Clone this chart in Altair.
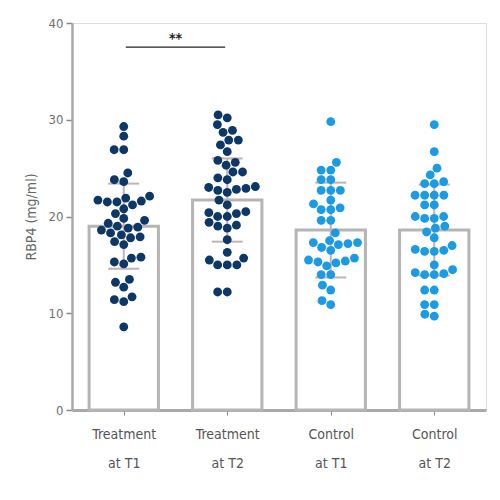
import math
import altair as alt
import pandas as pd

# ---------------- data ----------------
line1 = ["Treatment", "Treatment", "Control", "Control"]
line2 = ["at T1", "at T2", "at T1", "at T2"]
arms = ["Treatment", "Treatment", "Control", "Control"]
means = [19.0, 21.7, 18.6, 18.6]
sds = [4.4, 4.3, 4.9, 4.7]

treat_t1 = [29.3, 28.3, 26.9, 26.9, 24.5, 23.6, 23.8, 21.9, 21.5, 21.6, 21.2, 21.7, 21.5,
            19.8, 20.3, 19.3, 19.0, 18.8, 18.6, 18.3, 18.9, 18.1, 17.8, 19.6, 17.4, 17.9,
            15.8, 15.3, 15.1, 15.7, 13.2, 13.5, 12.7, 11.4, 11.2, 11.7, 8.6, 20.8, 22.1, 17.1]
treat_t2 = [30.5, 29.5, 30.2, 28.9, 28.7, 27.9, 27.4, 27.9, 26.7, 25.8, 25.3, 25.6, 24.6,
            23.8, 24.6, 22.9, 22.7, 22.8, 23.0, 23.1, 21.7, 22.5, 20.4, 20.0, 20.3, 20.0,
            20.5, 19.0, 19.1, 18.8, 19.4, 17.6, 16.3, 15.5, 15.0, 15.0, 15.0, 15.7, 12.2,
            12.2, 21.2, 24.0]
ctrl_t1 = [29.8, 25.6, 24.8, 24.8, 23.8, 23.8, 22.7, 22.7, 22.7, 21.7, 20.9, 20.7, 20.7,
           19.6, 19.6, 17.3, 17.1, 17.3, 17.5, 17.2, 15.7, 15.3, 15.5, 15.4, 15.2, 14.9,
           14.0, 14.0, 12.4, 12.9, 10.9, 11.3, 16.5, 16.8, 18.3, 21.3]
ctrl_t2 = [29.5, 26.7, 25.0, 24.3, 23.4, 23.4, 22.2, 22.2, 22.2, 22.2, 21.2, 21.2, 20.0,
           19.8, 19.8, 20.0, 18.4, 17.0, 16.5, 16.4, 16.4, 16.6, 14.5, 14.1, 14.0, 14.0,
           14.2, 12.4, 12.4, 10.9, 10.9, 9.7, 9.9, 18.8, 19.0, 23.6, 17.8, 15.0]
series = [treat_t1, treat_t2, ctrl_t1, ctrl_t2]

sig_from, sig_to, sig_level, sig_text = 0.02, 0.98, 37.5, "**"

# ---------------- layout ----------------
W, H = 414, 387
Y_MAX = 40
PX_X = W / 4.0          # px per x unit
PX_Y = H / Y_MAX        # px per y unit
DOT = 9.6               # dot diameter in px


def beeswarm(values):
    """Greedy beeswarm: returns x offsets in px for each value."""
    order = sorted(range(len(values)), key=lambda i: values[i])
    placed = []
    offs = [0.0] * len(values)
    for i in order:
        y = values[i] * PX_Y
        cands = [0.0]
        for (px, py) in placed:
            dy = abs(py - y)
            if dy < DOT:
                dx = math.sqrt(DOT * DOT - dy * dy)
                cands += [px + dx, px - dx]
        cands.sort(key=lambda c: (abs(c), c))
        for c in cands:
            ok = all((c - px) ** 2 + (y - py) ** 2 >= DOT * DOT - 1e-6 for px, py in placed)
            if ok:
                offs[i] = c
                placed.append((c, y))
                break
    return offs


rows = []
for gi, vals in enumerate(series):
    offs = beeswarm(vals)
    for v, o in zip(vals, offs):
        rows.append({"x": gi + o / PX_X, "value": v, "arm": arms[gi]})
points = pd.DataFrame(rows)

half_bar = 0.335
half_cap = 0.15
bars = pd.DataFrame({
    "x1": [i - half_bar for i in range(4)],
    "x2": [i + half_bar for i in range(4)],
    "xc": list(range(4)),
    "c1": [i - half_cap for i in range(4)],
    "c2": [i + half_cap for i in range(4)],
    "zero": [0] * 4,
    "mean": means,
    "lo": [m - s for m, s in zip(means, sds)],
    "hi": [m + s for m, s in zip(means, sds)],
})

label_expr = "[" + ",".join(f"['{a}','{b}']" for a, b in zip(line1, line2)) + "][datum.value]"

FONT = "Liberation Sans Narrow, DejaVu Sans Condensed, Liberation Sans, sans-serif"
xscale = alt.Scale(domain=[-0.5, 3.5], nice=False, zero=False)
yscale = alt.Scale(domain=[0, Y_MAX], nice=False)

xaxis = alt.Axis(values=[0, 1, 2, 3], labelExpr=label_expr, title=None, grid=False,
                 domainColor="#a9a9a9", domainWidth=3, tickColor="#8a8a8a", tickSize=5,
                 tickWidth=1, labelFont=FONT, labelFontSize=14, labelLineHeight=29,
                 labelPadding=12, labelColor="#555555", labelBaseline="top")
yaxis = alt.Axis(values=[0, 10, 20, 30, 40], title="RBP4 (mg/ml)", grid=False,
                 domainColor="#a9a9a9", domainWidth=2.5, tickColor="#8a8a8a", tickSize=6,
                 tickWidth=1.5, labelFont=FONT, labelFontSize=13, labelPadding=3,
                 labelColor="#707070", titleFont=FONT, titleFontSize=14,
                 titleFontWeight="normal", titleColor="#666666", titlePadding=10)

bar_layer = alt.Chart(bars).mark_rect(fill="white", stroke="#b5b5b5", strokeWidth=3).encode(
    x=alt.X("x1:Q", scale=xscale, axis=xaxis),
    x2="x2:Q",
    y=alt.Y("zero:Q", scale=yscale, axis=yaxis),
    y2="mean:Q",
)

err_v = alt.Chart(bars).mark_rule(color="#c4b2b2", strokeWidth=2).encode(
    x="xc:Q", y="lo:Q", y2="hi:Q")
cap_lo = alt.Chart(bars).mark_rule(color="#c4b2b2", strokeWidth=2).encode(
    x="c1:Q", x2="c2:Q", y="lo:Q")
cap_hi = alt.Chart(bars).mark_rule(color="#c4b2b2", strokeWidth=2).encode(
    x="c1:Q", x2="c2:Q", y="hi:Q")

dots = alt.Chart(points).mark_circle(size=78, opacity=1).encode(
    x="x:Q",
    y="value:Q",
    color=alt.Color("arm:N", scale=alt.Scale(domain=["Treatment", "Control"],
                                             range=["#0c3767", "#1b9be3"]), legend=None),
)

sig_df = pd.DataFrame({"a": [sig_from], "b": [sig_to], "y": [sig_level],
                       "m": [(sig_from + sig_to) / 2], "t": [sig_text]})
sig_line = alt.Chart(sig_df).mark_rule(color="#222222", strokeWidth=1.3).encode(
    x="a:Q", x2="b:Q", y="y:Q")
sig_txt = alt.Chart(sig_df).mark_text(fontSize=14, fontWeight="bold", color="#222222",
                                      baseline="bottom", dy=-1, font=FONT).encode(
    x="m:Q", y="y:Q", text="t:N")

chart = alt.layer(bar_layer, err_v, cap_lo, cap_hi, dots, sig_line, sig_txt).properties(
    width=W, height=H,
    autosize=alt.AutoSizeParams(type="none"),
    padding={"left": 64, "top": 15, "right": 6, "bottom": 76},
).configure_view(stroke=None).configure(background="white")

chart.save("out.html", embed_options={"renderer": "svg", "actions": False})
